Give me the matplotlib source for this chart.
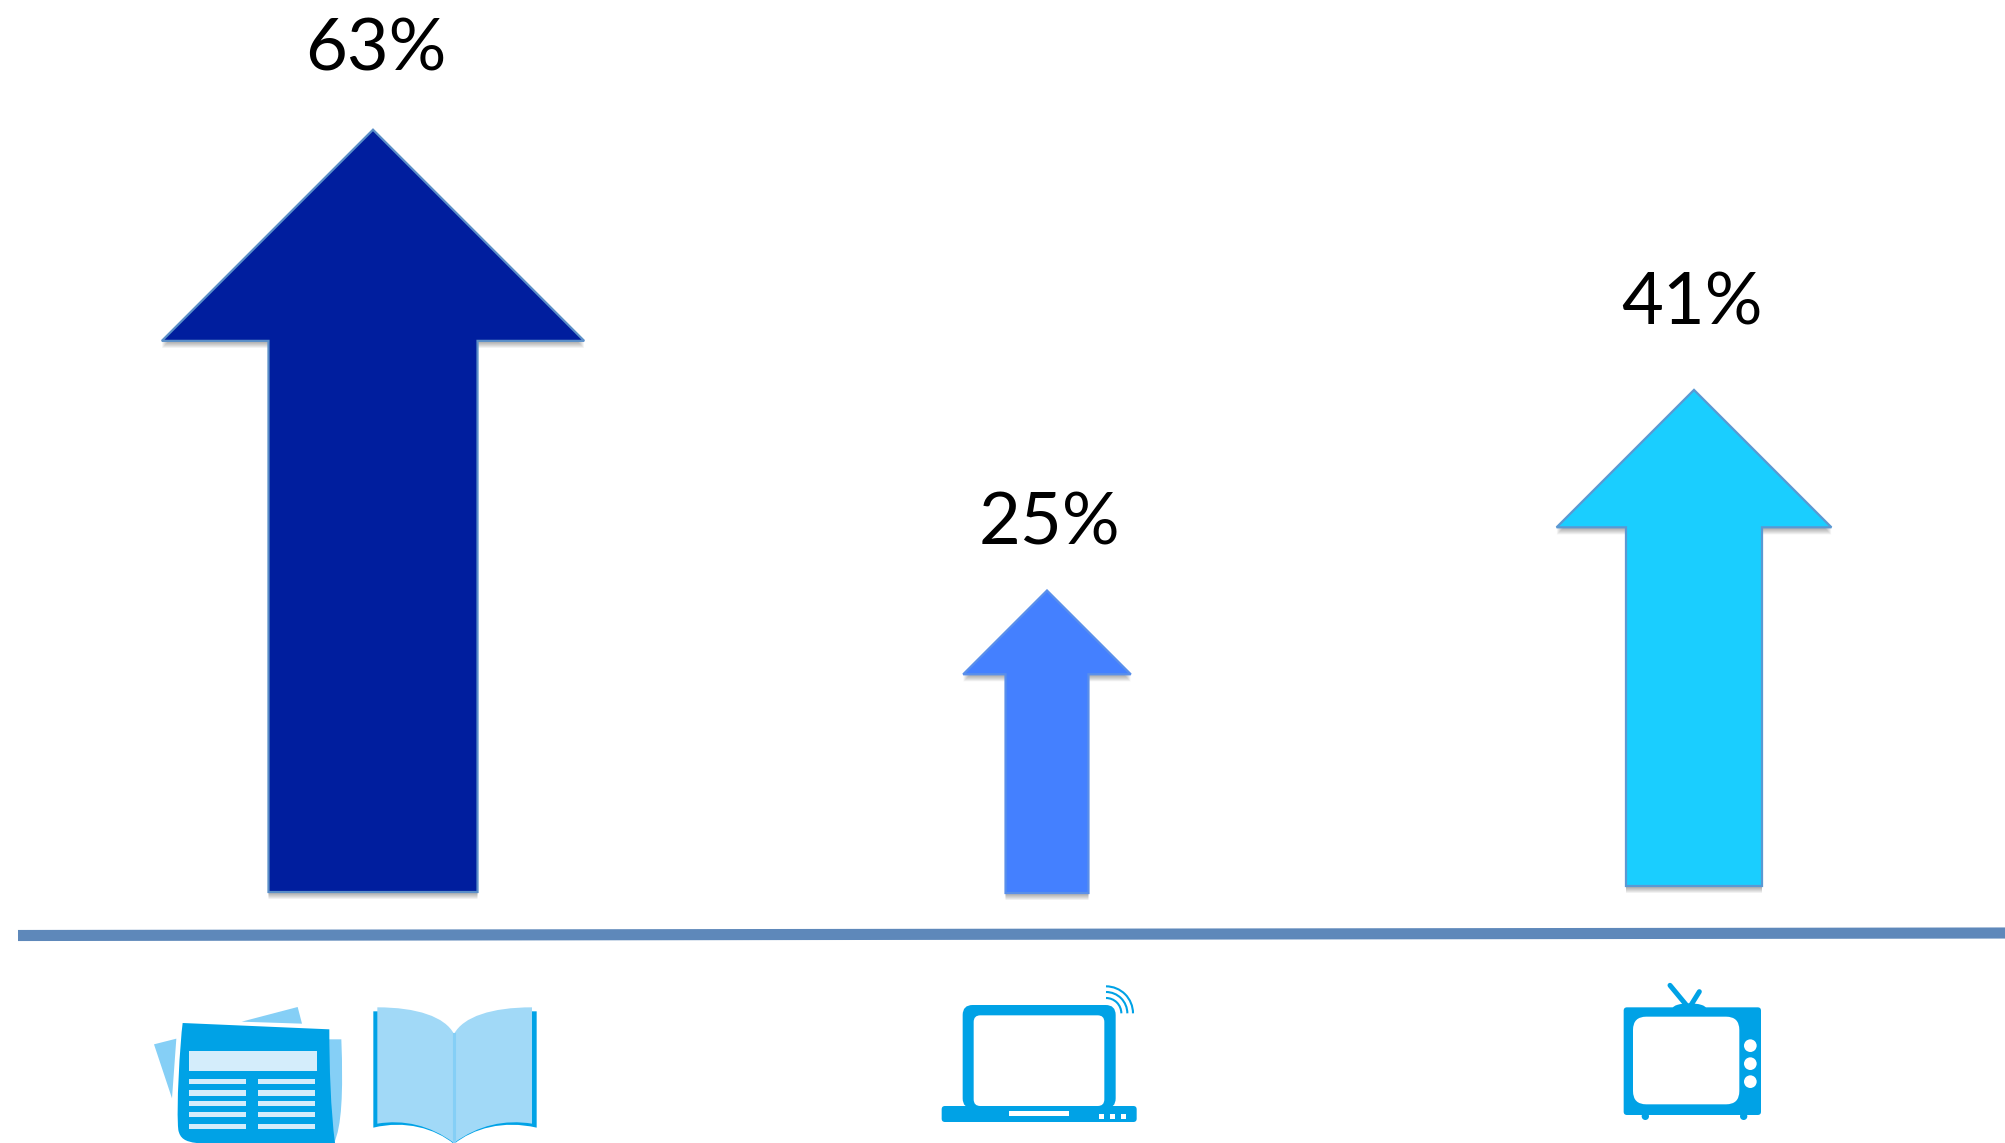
import matplotlib
matplotlib.use("Agg")
import matplotlib.pyplot as plt
from matplotlib.patches import Polygon, PathPatch, FancyBboxPatch, Rectangle, Circle, Arc, Ellipse
from matplotlib.path import Path

# Chart data
categories = ["Print", "Online", "TV"]
percent_values = [63, 25, 41]
percent_labels = ["63%", "25%", "41%"]

# Arrow styling
arrow_colors = ["#001E9E", "#4480FF", "#1ACEFF"]
arrow_edges = ["#5B8FC8", "#5A8FEA", "#5B98D2"]
arrow_centers_px = [373, 1047, 1694]
arrow_bases_px = [892, 893, 886]
label_centers_px = [(376, 50), (1049, 524), (1692, 304)]

W, H = 2006, 1143
PX_PER_PERCENT = 12.1
HEAD_SHARE = 0.277
SHAFT_SHARE = 0.495
BLUE = "#00A2E6"
LIGHT = "#85CFF6"
PAGE = "#A1D9F7"
PALE = "#D4EDFB"

plt.rcParams["font.family"] = ["Lato", "DejaVu Sans"]
fig = plt.figure(figsize=(W / 100, H / 100), dpi=100, facecolor="white")

# Overlay in pixel units for the baseline and the icons
ax = fig.add_axes([0, 0, 1, 1])
ax.set_xlim(0, W)
ax.set_ylim(H, 0)
ax.axis("off")

# Percent axis measured upward from the bottom of the figure's top edge
pct = fig.add_axes([0, 0, 1, 1], sharex=ax)
pct.set_ylim(-H / PX_PER_PERCENT, 0)
pct.axis("off")
pct.patch.set_alpha(0)


def arrow_outline(cx, base_px, value):
    base = -base_px / PX_PER_PERCENT
    head = value * HEAD_SHARE
    half_head = head * PX_PER_PERCENT
    half_shaft = half_head * SHAFT_SHARE
    neck = base + value - head
    return [
        (cx - half_shaft, base), (cx - half_shaft, neck), (cx - half_head, neck),
        (cx, base + value), (cx + half_head, neck), (cx + half_shaft, neck),
        (cx + half_shaft, base),
    ]


for value, cx, base_px, face, edge in zip(
    percent_values, arrow_centers_px, arrow_bases_px, arrow_colors, arrow_edges
):
    outline = arrow_outline(cx, base_px, value)
    # Soft drop shadow: copies stepped downward so it only shows beneath the shape
    for step in (2, 3, 4, 5, 6, 7):
        shifted = [(x, y - step / PX_PER_PERCENT) for x, y in outline]
        pct.add_patch(Polygon(shifted, closed=True, facecolor="black",
                              edgecolor="none", alpha=0.055))
    pct.add_patch(Polygon(outline, closed=True, facecolor=face, edgecolor=edge,
                          lw=1.6, joinstyle="miter"))

for text, (x, y) in zip(percent_labels, label_centers_px):
    ax.text(x, y, text, fontsize=52, color="black", ha="center", va="center", zorder=5)

# Baseline under the arrows
ax.plot([18, W], [935.5, 933], color="#5E88BA", lw=8, solid_capstyle="butt", zorder=2)


def zoomed(ox, oy, pts):
    return [(ox + x / 3, oy + y / 3) for x, y in pts]


def poly(ox, oy, pts, color, z=3):
    ax.add_patch(Polygon(zoomed(ox, oy, pts), closed=True, facecolor=color,
                         edgecolor="none", zorder=z))


def rect(ox, oy, x0, y0, x1, y1, color, z=4):
    ax.add_patch(Rectangle((ox + x0 / 3, oy + y0 / 3), (x1 - x0) / 3, (y1 - y0) / 3,
                           facecolor=color, edgecolor="none", zorder=z))


def rrect(ox, oy, x0, y0, x1, y1, r, color, z=3):
    r3 = r / 3
    ax.add_patch(FancyBboxPatch(
        (ox + x0 / 3 + r3, oy + y0 / 3 + r3), (x1 - x0) / 3 - 2 * r3, (y1 - y0) / 3 - 2 * r3,
        boxstyle=f"round,pad={r3},rounding_size={r3}",
        facecolor=color, edgecolor="none", zorder=z))


def curve(ox, oy, verts, codes, color, z=3):
    ax.add_patch(PathPatch(Path(zoomed(ox, oy, verts), codes), facecolor=color,
                           edgecolor="none", zorder=z))


M, L, C, Z = Path.MOVETO, Path.LINETO, Path.CURVE4, Path.CLOSEPOLY

# Newspaper
ox, oy = 130, 960
poly(ox, oy, [(335, 185), (503, 141), (516, 191)], LIGHT)
poly(ox, oy, [(72, 253), (139, 236), (126, 415)], LIGHT)
curve(ox, oy,
      [(590, 238), (634, 238), (640, 400), (635, 500), (612, 549), (590, 549), (590, 238)],
      [M, L, C, C, C, L, Z], LIGHT)
curve(ox, oy,
      [(158, 189), (598, 208), (598, 320), (602, 450), (615, 549),
       (200, 549), (165, 545), (150, 535), (145, 510), (138, 450), (150, 250), (158, 189), (158, 189)],
      [M, L, C, C, C, L, C, C, C, C, C, C, Z], BLUE, z=3.5)
rect(ox, oy, 176, 273, 561, 333, PALE)
for y0, y1 in [(357, 372), (391, 407), (422, 437), (456, 471), (491, 506)]:
    rect(ox, oy, 176, y0, 349, y1, PALE)
    rect(ox, oy, 383, y0, 556, y1, PALE)

# Open book: the cover only shows at the outer edges and along the bottom
curve(ox, oy,
      [(730, 154), (760, 154), (760, 480), (1190, 480), (1190, 154), (1220, 154), (1220, 503),
       (1120, 480), (1030, 505), (972, 552),
       (915, 505), (825, 480), (730, 503), (730, 154)],
      [M, L, L, L, L, L, L, C, C, C, C, C, C, Z], BLUE)
curve(ox, oy,
      [(742, 142), (860, 142), (945, 170), (972, 222), (972, 549),
       (900, 495), (820, 478), (742, 491), (742, 142)],
      [M, C, C, C, L, C, C, C, Z], PAGE, z=3.5)
curve(ox, oy,
      [(1206, 142), (1085, 142), (1000, 170), (972, 222), (972, 549),
       (1045, 495), (1125, 478), (1206, 491), (1206, 142)],
      [M, C, C, C, L, C, C, C, Z], PAGE, z=3.5)
ax.plot([ox + 972 / 3, ox + 972 / 3], [oy + 222 / 3, oy + 549 / 3], color=LIGHT, lw=2.2, zorder=4)

# Laptop with wireless signal
ox, oy = 920, 960
rrect(ox, oy, 128, 135, 587, 445, 30, BLUE)
rrect(ox, oy, 161, 166, 553, 438, 20, "white", z=4)
rrect(ox, oy, 65, 438, 650, 486, 10, BLUE, z=4.5)
rect(ox, oy, 266, 453, 446, 467, "white", z=5)
for x0, x1 in [(538, 552), (570, 584), (602, 617)]:
    rect(ox, oy, x0, 463, x1, 477, "white", z=5)
for r in (46, 64, 81):
    # The y axis runs downward, so this angle range sweeps the upper right quadrant
    ax.add_patch(Arc((ox + 558 / 3, oy + 160 / 3), 2 * r / 3, 2 * r / 3, theta1=270, theta2=360,
                     color=BLUE, lw=1.5, zorder=4))

# Television
ox, oy = 1590, 960
ax.plot([ox + 240 / 3, ox + 293 / 3], [oy + 76 / 3, oy + 140 / 3], color=BLUE, lw=3.6,
        solid_capstyle="round", zorder=3)
ax.plot([ox + 328 / 3, ox + 300 / 3], [oy + 95 / 3, oy + 140 / 3], color=BLUE, lw=3.6,
        solid_capstyle="round", zorder=3)
ax.add_patch(Ellipse((ox + 298 / 3, oy + 145 / 3), 100 / 3, 30 / 3, facecolor=BLUE,
                     edgecolor="none", zorder=3))
for x in (166, 461):
    ax.add_patch(Circle((ox + x / 3, oy + 469 / 3), 11 / 3, facecolor=BLUE, edgecolor="none", zorder=3))
rrect(ox, oy, 101, 142, 513, 465, 10, BLUE, z=3.5)
rrect(ox, oy, 129, 170, 448, 433, 40, "white", z=4)
for y in (257, 311, 365):
    ax.add_patch(Circle((ox + 481 / 3, oy + y / 3), 19 / 3, facecolor="white", edgecolor="none", zorder=4))

fig.savefig("out.png", dpi=100, facecolor="white")
